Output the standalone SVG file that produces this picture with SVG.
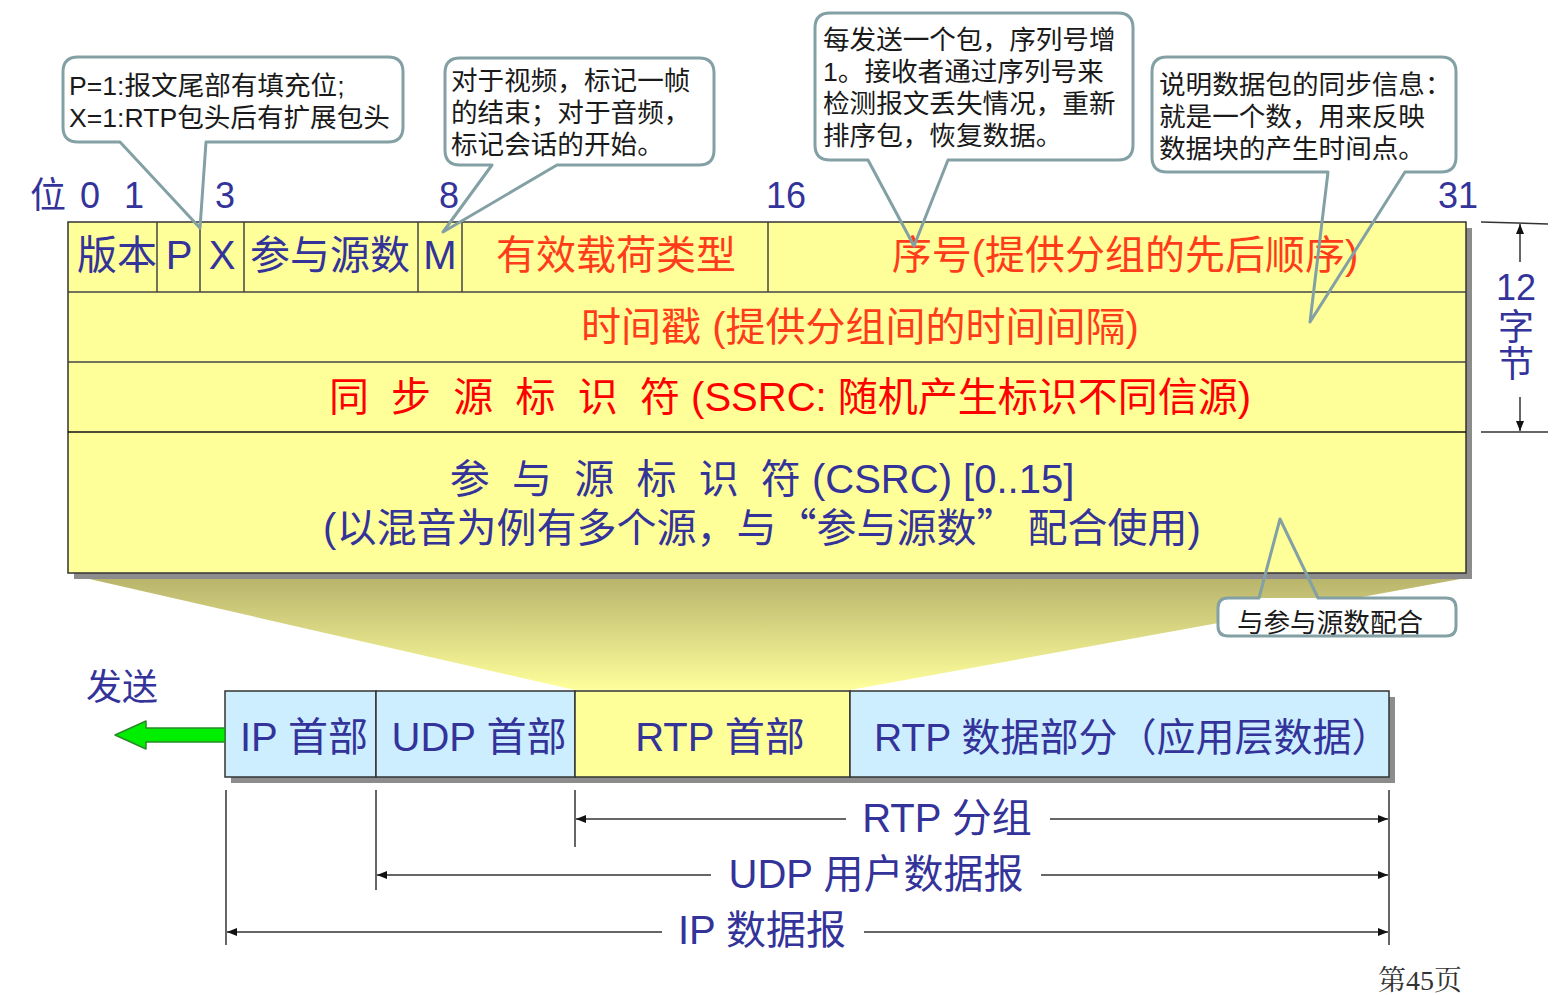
<svg xmlns="http://www.w3.org/2000/svg" width="1558" height="995" viewBox="0 0 1558 995">
<style>
.t{font-family:"Liberation Sans","Noto Sans CJK SC",sans-serif;}
.cjk{font-family:"Noto Sans CJK SC",sans-serif;}
.blue{fill:#33339a;}
.org{fill:#ff3c1a;}
.red{fill:#ff0000;}
.f40{font-size:40px;}
.f36{font-size:36px;}
.co{font-family:"Liberation Sans","Noto Sans CJK SC",sans-serif;font-size:26.6px;fill:#1a1a1a;}
.cob{fill:none;stroke:#83a0a4;stroke-width:3;stroke-linejoin:round;}
.cell{fill:#ffff99;stroke:#333;stroke-width:1.5;}
.div{stroke:#444;stroke-width:1.5;}
.dim{stroke:#333;stroke-width:1.5;fill:none;}
.pk{fill:#cceeff;stroke:#333;stroke-width:1.5;}
.shadow{fill:#8c8c8c;}
</style>
<defs>
<linearGradient id="fade" x1="0" y1="0" x2="0" y2="1">
<stop offset="0" stop-color="#b8b46c"/>
<stop offset="1" stop-color="#ffff9c"/>
</linearGradient>
<marker id="ah" viewBox="0 0 10 8" refX="10" refY="4" markerWidth="10" markerHeight="8" markerUnits="userSpaceOnUse" orient="auto-start-reverse">
<path d="M0,0 L10,4 L0,8 Z" fill="#111"/>
</marker>
</defs>

<!-- fade trapezoid -->
<polygon points="85,578 1466,578 850,690 575,690" fill="url(#fade)"/>

<!-- header table -->
<g id="header">
<rect class="shadow" x="74" y="228" width="1398" height="351"/>
<rect class="cell" x="68" y="222" width="1398" height="351"/>
<line class="div" x1="68" y1="292" x2="1466" y2="292"/>
<line class="div" x1="68" y1="362" x2="1466" y2="362"/>
<line x1="68" y1="432" x2="1466" y2="432" stroke="#111" stroke-width="1.5"/>
<line class="div" x1="157" y1="222" x2="157" y2="292"/>
<line class="div" x1="200" y1="222" x2="200" y2="292"/>
<line class="div" x1="244" y1="222" x2="244" y2="292"/>
<line class="div" x1="418" y1="222" x2="418" y2="292"/>
<line class="div" x1="462" y1="222" x2="462" y2="292"/>
<line class="div" x1="768" y1="222" x2="768" y2="292"/>
<text class="t blue f40" x="117" y="269" text-anchor="middle">版本</text>
<text class="t blue f40" x="179" y="269" text-anchor="middle">P</text>
<text class="t blue f40" x="222" y="269" text-anchor="middle">X</text>
<text class="t blue f40" x="330" y="269" text-anchor="middle">参与源数</text>
<text class="t blue f40" x="440" y="269" text-anchor="middle">M</text>
<text class="t org f40" x="616" y="269" text-anchor="middle">有效载荷类型</text>
<text class="t org f40" x="1125" y="269" text-anchor="middle">序号(提供分组的先后顺序)</text>
<text class="t org f40" x="860" y="341" text-anchor="middle">时间戳 (提供分组间的时间间隔)</text>
<text class="t red f40" x="790" y="411" text-anchor="middle" xml:space="preserve">同  步  源  标  识  符 (SSRC: 随机产生标识不同信源)</text>
<text class="t blue f40" x="762" y="493" text-anchor="middle" xml:space="preserve">参  与  源  标  识  符 (CSRC) [0..15]</text>
<text class="t blue f40" x="762" y="542" text-anchor="middle">(以混音为例有多个源，与<tspan class="cjk">“</tspan>参与源数<tspan class="cjk">”</tspan> 配合使用)</text>
</g>

<!-- bit labels -->
<g id="bits">
<text class="t blue f36" x="30" y="208">位</text>
<text class="t blue f36" x="80" y="208">0</text>
<text class="t blue f36" x="124" y="208">1</text>
<text class="t blue f36" x="215" y="208">3</text>
<text class="t blue f36" x="439" y="208">8</text>
<text class="t blue f36" x="766" y="208">16</text>
<text class="t blue f36" x="1438" y="208">31</text>
</g>

<!-- 12 bytes dimension -->
<g id="bytes">
<line class="dim" x1="1481" y1="222" x2="1548" y2="224"/>
<line class="dim" x1="1481" y1="432" x2="1548" y2="432"/>
<line class="dim" x1="1520" y1="262" x2="1520" y2="224" marker-end="url(#ah)"/>
<line class="dim" x1="1520" y1="397" x2="1520" y2="431" marker-end="url(#ah)"/>
<text class="t blue f36" x="1516" y="300" text-anchor="middle">12</text>
<text class="t blue f36" x="1516" y="340" text-anchor="middle">字</text>
<text class="t blue f36" x="1516" y="377" text-anchor="middle">节</text>
</g>

<!-- packet row -->
<g id="packet">
<rect class="shadow" x="231" y="697" width="1164" height="86"/>
<rect class="pk" x="225" y="691" width="151" height="86"/>
<rect class="pk" x="376" y="691" width="199" height="86"/>
<rect class="cell" x="575" y="691" width="275" height="86"/>
<rect class="pk" x="850" y="691" width="539" height="86"/>
<text class="t blue f40" x="304" y="751" text-anchor="middle">IP 首部</text>
<text class="t blue f40" x="479" y="751" text-anchor="middle">UDP 首部</text>
<text class="t blue f40" x="720" y="751" text-anchor="middle">RTP 首部</text>
<text class="t blue" x="874" y="751" font-size="39">RTP 数据部分（应用层数据）</text>
</g>

<g id="send">
<text class="t blue f36" x="86" y="700">发送</text>
<polygon points="115,735 146,721 146,728 225,728 225,742 146,742 146,749" fill="#00ee00" stroke="#2a8a2a" stroke-width="1.5" stroke-linejoin="round"/>
</g>

<!-- dimension lines -->
<g id="connectors">
<line class="dim" x1="226" y1="790" x2="226" y2="945"/>
<line class="dim" x1="376" y1="790" x2="376" y2="890"/>
<line class="dim" x1="575" y1="790" x2="575" y2="847"/>
<line class="dim" x1="1389" y1="790" x2="1389" y2="945"/>
<line class="dim" x1="846" y1="819" x2="576" y2="819" marker-end="url(#ah)"/>
<line class="dim" x1="1050" y1="819" x2="1388" y2="819" marker-end="url(#ah)"/>
<line class="dim" x1="711" y1="875" x2="377" y2="875" marker-end="url(#ah)"/>
<line class="dim" x1="1041" y1="875" x2="1388" y2="875" marker-end="url(#ah)"/>
<line class="dim" x1="662" y1="932" x2="227" y2="932" marker-end="url(#ah)"/>
<line class="dim" x1="864" y1="932" x2="1388" y2="932" marker-end="url(#ah)"/>
</g>
<text class="t blue f40" x="947" y="832" text-anchor="middle">RTP 分组</text>
<text class="t blue f40" x="876" y="888" text-anchor="middle">UDP 用户数据报</text>
<text class="t blue f40" x="762" y="944" text-anchor="middle">IP 数据报</text>

<!-- callouts -->
<g id="callout-px">
<rect x="63" y="57" width="340" height="85" rx="15" fill="#fff"/>
<path class="cob" d="M78,57 H388 Q403,57 403,72 V127 Q403,142 388,142 H206 L200,228 L120,142 H78 Q63,142 63,127 V72 Q63,57 78,57 Z"/>
<text class="co" x="69" y="95">P=1:报文尾部有填充位;</text>
<text class="co" x="69" y="127">X=1:RTP包头后有扩展包头</text>
</g>

<g id="callout-m">
<rect x="445" y="58" width="269" height="107" rx="15" fill="#fff"/>
<path class="cob" d="M460,58 H699 Q714,58 714,73 V150 Q714,165 699,165 H557 L443,232 L492,165 H460 Q445,165 445,150 V73 Q445,58 460,58 Z"/>
<text class="co" x="451" y="90">对于视频，标记一帧</text>
<text class="co" x="451" y="122">的结束；对于音频，</text>
<text class="co" x="451" y="154">标记会话的开始。</text>
</g>

<g id="callout-seq">
<rect x="815" y="13" width="318" height="147" rx="15" fill="#fff"/>
<path class="cob" d="M830,13 H1118 Q1133,13 1133,28 V145 Q1133,160 1118,160 H948 L914,246 L868,160 H830 Q815,160 815,145 V28 Q815,13 830,13 Z"/>
<text class="co" x="823" y="49">每发送一个包，序列号增</text>
<text class="co" x="823" y="81">1。接收者通过序列号来</text>
<text class="co" x="823" y="113">检测报文丢失情况，重新</text>
<text class="co" x="823" y="145">排序包，恢复数据。</text>
</g>

<g id="callout-ts">
<rect x="1152" y="57" width="304" height="115" rx="15" fill="#fff"/>
<path class="cob" d="M1167,57 H1441 Q1456,57 1456,72 V157 Q1456,172 1441,172 H1405 L1310,322 L1328,172 H1167 Q1152,172 1152,157 V72 Q1152,57 1167,57 Z"/>
<text class="co" x="1159" y="94">说明数据包的同步信息：</text>
<text class="co" x="1159" y="126">就是一个数，用来反映</text>
<text class="co" x="1159" y="158">数据块的产生时间点。</text>
</g>

<g id="callout-csrc">
<rect x="1218" y="598" width="238" height="38" rx="10" fill="#fff"/>
<path class="cob" d="M1228,598 H1259 L1280,519 L1318,598 H1446 Q1456,598 1456,608 V626 Q1456,636 1446,636 H1228 Q1218,636 1218,626 V608 Q1218,598 1228,598 Z"/>
<text class="co" x="1330" y="632" text-anchor="middle">与参与源数配合</text>
</g>

<text x="1378" y="990" font-family="'Liberation Serif','Noto Serif CJK SC','Noto Sans CJK SC',serif" font-size="28" fill="#333">第45页</text>
</svg>
